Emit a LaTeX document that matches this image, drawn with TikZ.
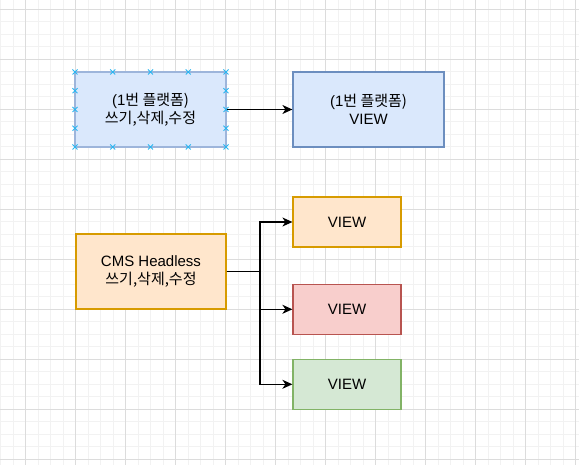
\documentclass[tikz,border=0pt]{standalone}
\usepackage{fontspec}
\setmainfont{Liberation Sans}
\newfontfamily\ko{Noto Sans CJK KR}
\usetikzlibrary{arrows.meta}
\definecolor{gridminor}{HTML}{F2F2F2}
\definecolor{gridmajor}{HTML}{DCDCDC}
\definecolor{bluefill}{HTML}{DAE8FC}
\definecolor{blueline}{HTML}{6C8EBF}
\definecolor{selline}{HTML}{9DB5DB}
\definecolor{orangefill}{HTML}{FFE6CC}
\definecolor{orangeline}{HTML}{D79B00}
\definecolor{redfill}{HTML}{F8CECC}
\definecolor{redline}{HTML}{B85450}
\definecolor{greenfill}{HTML}{D5E8D4}
\definecolor{greenline}{HTML}{82B366}
\definecolor{handle}{HTML}{29B6F2}
\tikzset{
  box/.style={rectangle, draw, line width=1.2pt, inner sep=0pt, align=center,
    font=\fontsize{15}{18}\selectfont},
  bluebox/.style={box, fill=bluefill, draw=blueline},
  selbox/.style={box, fill=bluefill, draw=selline},
  orangebox/.style={box, fill=orangefill, draw=orangeline},
  redbox/.style={box, fill=redfill, draw=redline},
  greenbox/.style={box, fill=greenfill, draw=greenline},
  conn/.style={line width=1.25pt, draw=black, -{Stealth[length=10pt,width=9pt,inset=3pt]}},
  hmark/.style={draw=handle, line width=1pt}
}
\begin{document}
\begin{tikzpicture}[x=1pt,y=-1pt]
\useasboundingbox (0,0) rectangle (579,465);
\fill[white] (0,0) rectangle (579,465);
% grid
\foreach \i in {0,...,46} {
  \draw[gridminor, line width=0.8pt] ({0.5+12.5*\i},0) -- ({0.5+12.5*\i},465);
}
\foreach \i in {0,...,37} {
  \draw[gridminor, line width=0.8pt] (0,{9.3+12.5*\i}) -- (579,{9.3+12.5*\i});
}
\foreach \i in {0,...,11} {
  \draw[gridmajor, line width=0.9pt] ({25.8+50*\i},0) -- ({25.8+50*\i},465);
}
\foreach \i in {0,...,9} {
  \draw[gridmajor, line width=0.9pt] (0,{9.3+50*\i}) -- (579,{9.3+50*\i});
}
% nodes
\node[selbox, minimum width=151pt, minimum height=75pt] (b1) at (150.5,109.5)
  {(1\ko{번 플랫폼})\\\ko{쓰기},\ko{삭제},\ko{수정}};
\node[bluebox, minimum width=151pt, minimum height=75pt] (b2) at (368.5,109.5)
  {(1\ko{번 플랫폼})\\VIEW};
\node[orangebox, minimum width=150pt, minimum height=75pt] (cms) at (151,271.5)
  {CMS Headless\\\ko{쓰기},\ko{삭제},\ko{수정}};
\node[orangebox, minimum width=108pt, minimum height=50pt] (v1) at (347,222) {VIEW};
\node[redbox, minimum width=108pt, minimum height=50pt] (v2) at (347,309.3) {VIEW};
\node[greenbox, minimum width=108pt, minimum height=50pt] (v3) at (347,384.3) {VIEW};
% selection handles on b1
\foreach \hx in {75,112.75,150.5,188.25,226} {
  \foreach \hy in {72,147} {
    \draw[hmark] (\hx-2.5,\hy-2.5) -- (\hx+2.5,\hy+2.5) (\hx-2.5,\hy+2.5) -- (\hx+2.5,\hy-2.5);
  }
}
\foreach \hy in {90.75,109.5,128.25} {
  \foreach \hx in {75,226} {
    \draw[hmark] (\hx-2.5,\hy-2.5) -- (\hx+2.5,\hy+2.5) (\hx-2.5,\hy+2.5) -- (\hx+2.5,\hy-2.5);
  }
}
% connectors
\draw[conn] (b1.east) -- (b2.west);
\coordinate (j) at (260,271.5);
\draw[conn] (cms.east) -- (j) |- (v1.west);
\draw[conn] (cms.east) -- (j) |- (v2.west);
\draw[conn] (cms.east) -- (j) |- (v3.west);
\end{tikzpicture}
\end{document}
